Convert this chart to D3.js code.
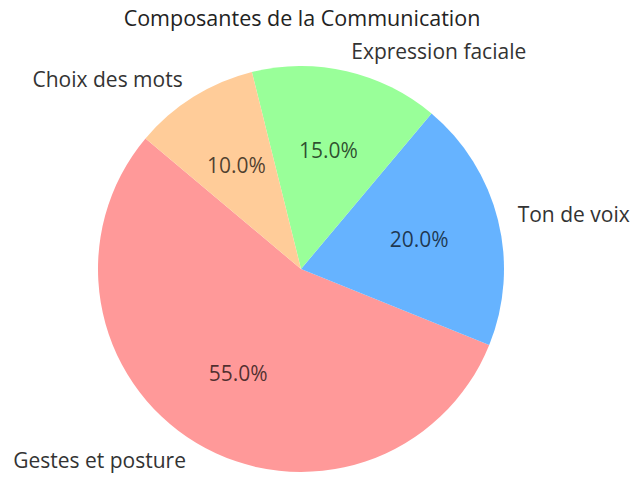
<!DOCTYPE html>
<html>
<head>
<meta charset="utf-8">
<script src="https://cdn.jsdelivr.net/npm/d3@7"></script>
<style>
  body { margin: 0; background: #fff; }
  text { font-family: "Open Sans", sans-serif; }
</style>
</head>
<body>
<svg id="svg-pie" width="631" height="477"></svg>
<script>
var svg = d3.select("#svg-pie");

// data
var labels = ["Gestes et posture", "Ton de voix", "Expression faciale", "Choix des mots"];
var values = [55, 20, 15, 10];
var colors = ["#ff9999", "#66b3ff", "#99ff99", "#ffcc99"];

var cx = 301, cy = 269;
var radius = 203;
var startAngle = 140; // degrees, counter-clockwise from 3 o'clock like matplotlib

var dataset = labels.map(function(l, i) {
  return { label: l, value: values[i], color: colors[i] };
});

// d3 angles go clockwise from 12 o'clock, so map matplotlib angles over
var toD3 = function(deg) { return (90 - deg) * Math.PI / 180; };

var pie = d3.pie()
  .sort(null)
  .value(function(d) { return d.value; })
  .startAngle(toD3(startAngle))
  .endAngle(toD3(startAngle + 360));

var arc = d3.arc().innerRadius(0).outerRadius(radius);
var arcs = pie(dataset);
var total = d3.sum(values);

var g = svg.append("g").attr("transform", "translate(" + cx + "," + cy + ")");

g.selectAll("path")
  .data(arcs)
  .enter()
  .append("path")
  .attr("d", arc)
  .attr("fill", function(d) { return d.data.color; });

// mid angle in d3 convention -> x,y at a given radius
var pos = function(d, r) {
  var a = (d.startAngle + d.endAngle) / 2;
  return [r * Math.sin(a), -r * Math.cos(a)];
};

// outer labels at 1.1 radius
g.selectAll("labels")
  .data(arcs)
  .enter()
  .append("text")
  .attr("x", function(d) { return pos(d, radius * 1.1)[0]; })
  .attr("y", function(d) { return pos(d, radius * 1.1)[1]; })
  .attr("dy", "0.35em")
  .attr("text-anchor", function(d) { return pos(d, 1)[0] > 0 ? "start" : "end"; })
  .attr("font-size", 21)
  .attr("fill", "#333")
  .text(function(d) { return d.data.label; });

// percentages at 0.6 radius
g.selectAll("pct")
  .data(arcs)
  .enter()
  .append("text")
  .attr("x", function(d) { return pos(d, radius * 0.6)[0]; })
  .attr("y", function(d) { return pos(d, radius * 0.6)[1]; })
  .attr("dy", "0.35em")
  .attr("text-anchor", "middle")
  .attr("font-size", 21)
  .attr("fill", "#000")
  .attr("fill-opacity", 0.7)
  .text(function(d) { return (d.data.value / total * 100).toFixed(1) + "%"; });

// title
svg.append("text")
  .attr("x", 302)
  .attr("y", 18)
  .attr("dy", "0.35em")
  .attr("text-anchor", "middle")
  .attr("font-size", 21.5)
  .attr("font-family", "DejaVu Sans")
  .attr("fill", "#222")
  .text("Composantes de la Communication");
</script>
</body>
</html>
